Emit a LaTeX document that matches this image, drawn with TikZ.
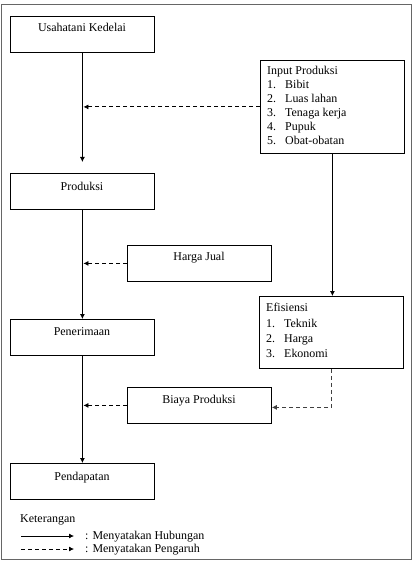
\documentclass[tikz,border=0pt]{standalone}
\usepackage{fontspec}
\setmainfont{Liberation Serif}
\usetikzlibrary{arrows.meta}
\begin{document}
\begin{tikzpicture}[x=1bp,y=-1bp,
  box/.style={draw, line width=0.8bp, minimum width=144bp, minimum height=36bp, inner sep=0pt, anchor=north west},
  txt/.style={font=\fontsize{12}{14}\selectfont, inner sep=0pt, anchor=base},
  ltxt/.style={font=\fontsize{12}{14}\selectfont, inner sep=0pt, anchor=base west},
  rel/.style={line width=0.8bp, -{Latex[length=5bp,width=5bp]}},
  infl/.style={line width=0.8bp, dash pattern=on 4bp off 3bp, -{Latex[length=5bp,width=5bp]}}]
\useasboundingbox (0,0) rectangle (414,563);
\draw[line width=1.5bp, color=black!60] (1.5,4.5) rectangle (411.5,559.5);
% left column
\node[box] (usaha) at (10,16) {};
\node[txt] (usahaT) at (82,32) {Usahatani Kedelai};
\node[box] (prod) at (10,173) {};
\node[txt] (prodT) at (82,190) {Produksi};
\node[box] (pener) at (10,319) {};
\node[txt] (penerT) at (82,335) {Penerimaan};
\node[box] (pend) at (10,463) {};
\node[txt] (pendT) at (82,480) {Pendapatan};
% middle
\node[box] (harga) at (127,245) {};
\node[txt] (hargaT) at (199,260) {Harga Jual};
\node[box] (biaya) at (127,387) {};
\node[txt] (biayaT) at (199,403) {Biaya Produksi};
% right
\node[box, minimum height=93bp] (input) at (260,60) {};
\node[ltxt] (in0) at (267,75) {Input Produksi};
\node[ltxt] (in1n) at (267,89) {1.};
\node[ltxt] (in1) at (285,89) {Bibit};
\node[ltxt] (in2n) at (267,103) {2.};
\node[ltxt] (in2) at (285,103) {Luas lahan};
\node[ltxt] (in3n) at (267,117) {3.};
\node[ltxt] (in3) at (285,117) {Tenaga kerja};
\node[ltxt] (in4n) at (267,131) {4.};
\node[ltxt] (in4) at (285,131) {Pupuk};
\node[ltxt] (in5n) at (267,145) {5.};
\node[ltxt] (in5) at (285,145) {Obat-obatan};
\node[box, minimum height=72bp] (eff) at (259,296) {};
\node[ltxt] (ef0) at (266,311) {Efisiensi};
\node[ltxt] (ef1n) at (266,327) {1.};
\node[ltxt] (ef1) at (284,327) {Teknik};
\node[ltxt] (ef2n) at (266,342) {2.};
\node[ltxt] (ef2) at (284,342) {Harga};
\node[ltxt] (ef3n) at (266,357) {3.};
\node[ltxt] (ef3) at (284,357) {Ekonomi};
% connectors
\draw[rel] (usaha.south) -- ([yshift=11bp]prod.north);
\draw[rel] (prod.south) -- (pener.north);
\draw[rel] (pener.south) -- (pend.north);
\draw[infl] (input.west) -- ([xshift=1bp]usaha.south |- input.west);
\draw[infl] (harga.west) -- ([xshift=1bp]usaha.south |- harga.west);
\draw[infl] (biaya.west) -- ([xshift=1bp]usaha.south |- biaya.west);
\draw[rel] (input.south) -- (input.south |- eff.north);
\coordinate (effturn) at ([yshift=-2bp]eff.south |- biaya.east);
\draw[infl, color=black!75] (eff.south) -- (effturn) -- (biaya.east |- effturn);
% legend
\node[ltxt] (ket) at (20,522) {Keterangan};
\coordinate (l1a) at (21,536);
\coordinate (l1b) at (74,536);
\coordinate (l2a) at (21,549);
\coordinate (l2b) at (74,549);
\draw[rel] (l1a) -- (l1b);
\draw[infl] (l2a) -- (l2b);
\node[ltxt] (leg1) at (85,539) {: Menyatakan Hubungan};
\node[ltxt] (leg2) at (85,552) {: Menyatakan Pengaruh};
\end{tikzpicture}
\end{document}
